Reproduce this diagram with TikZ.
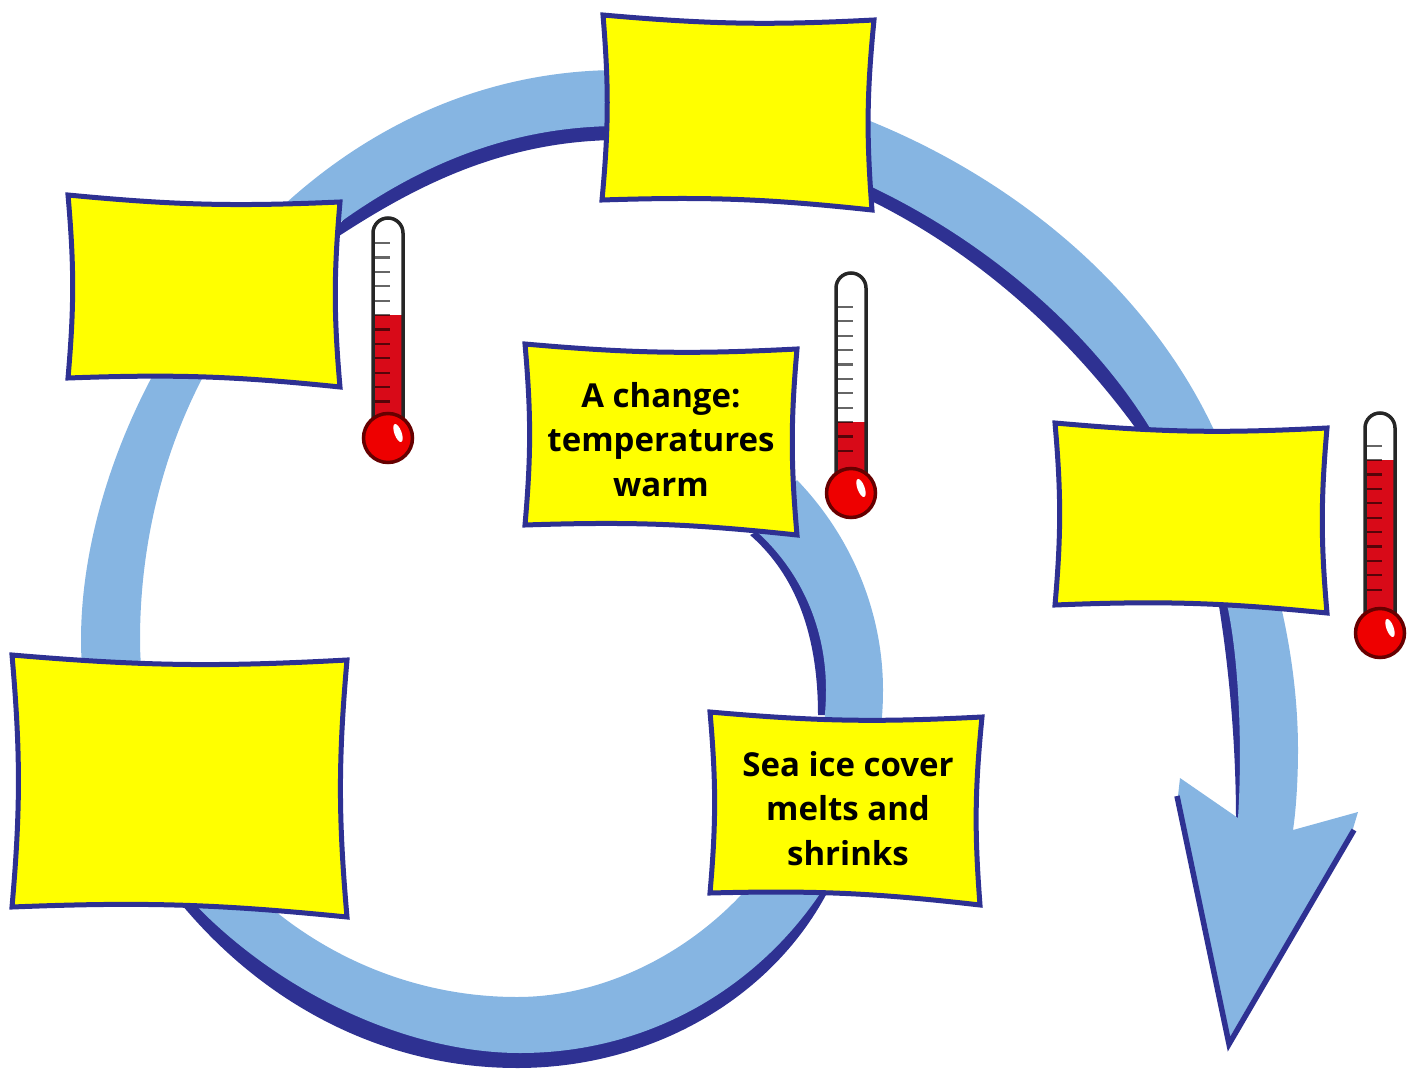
\documentclass[tikz,border=0pt]{standalone}
\usepackage{fontspec}
\setmainfont{Open Sans}
\usepackage{xcolor}
\usetikzlibrary{calc}

\definecolor{bandblue}{HTML}{86B5E2}
\definecolor{rimblue}{HTML}{2E3192}
\definecolor{tubered}{HTML}{D80A18}
\definecolor{bulbred}{HTML}{EE0000}
\definecolor{noteyellow}{HTML}{FFFF00}

\tikzset{
  band/.style={fill=bandblue,draw=none},
  rim/.style={fill=rimblue,draw=none},
  notebox/.style={fill=noteyellow,draw=rimblue,line width=5pt,line join=miter},
  notetext/.style={align=center,font=\fontsize{33}{44.5}\selectfont\bfseries,text=black,inner sep=0pt},
  tube/.style={draw=black!85,line width=3.5pt},
}

% corners run clockwise from the top left
\newcommand{\notebox}[5]{%
  \draw[notebox] (#2) to[bend right=4] (#3) to[bend right=5] (#4)
    to[bend right=4] (#5) to[bend right=5] cycle;
  \coordinate (#1) at ($(#2)!0.5!(#4)$);
}
% name, centre x, top y, level y, bulb y
\newcommand{\thermo}[5]{%
  \fill[white] (#2-15,#5) -- (#2-15,#3+15) arc[start angle=180,end angle=360,radius=15] -- (#2+15,#5) -- cycle;
  \fill[tubered] (#2-15,#4) rectangle (#2+15,#5);
  \foreach \n in {0,...,24} {
    \pgfmathsetmacro{\ticky}{#4-(12-\n)*14.4}
    \ifdim\ticky pt>\dimexpr#3pt+20pt\relax
      \ifdim\ticky pt<\dimexpr#5pt-30pt\relax
        \draw[line width=2.2pt,black,opacity=0.6] (#2-13,\ticky) -- (#2+2,\ticky);
      \fi
    \fi
  }
  \draw[tube] (#2-15,#5) -- (#2-15,#3+15) arc[start angle=180,end angle=360,radius=15] -- (#2+15,#5);
  \node[circle,minimum size=49pt,inner sep=0pt,fill=bulbred,draw=black!60!red,line width=3.5pt] (#1) at (#2,#5) {};
  \fill[white,rotate around={20:(#2+10,#5-5)}] (#2+10,#5-5) ellipse[x radius=3.6,y radius=9.5];
}

\begin{document}
\begin{tikzpicture}[x=1pt,y=-1pt]
  \useasboundingbox (0,0) rectangle (1419,1070);

  % dark rims
  \path[rim] (182,905) .. controls (270,1010) and (390,1068) .. (517,1068)
    .. controls (650,1068) and (770,1000) .. (827,893)
    -- (823,880) .. controls (750,1000) and (650,1030) .. (520,1030)
    .. controls (390,1030) and (270,980) .. (198,900) -- cycle;
  \path[rim] (339,236) .. controls (410,190) and (500,140) .. (620,140)
    .. controls (820,140) and (1010,255) .. (1137,430)
    -- (1150,450) -- (1170,440) -- (1150,420) .. controls (1050,220) and (850,100) .. (640,100)
    .. controls (500,100) and (400,150) .. (339,225) -- cycle;
  \path[rim] (750,535) .. controls (790,570) and (818,625) .. (818,715)
    -- (840,715) .. controls (840,620) and (810,570) .. (770,525) -- cycle;
  \path[rim] (1218,600) .. controls (1228,660) and (1236,740) .. (1236,820)
    -- (1250,820) -- (1250,600) -- cycle;

  % the band, from the middle box round to the arrow
  \path[band] (797,480) .. controls (850,535) and (883,610) .. (883,690)
    .. controls (883,880) and (730,1053) .. (520,1053)
    .. controls (330,1053) and (81,880) .. (81,640)
    .. controls (81,400) and (290,70) .. (620,70)
    .. controls (850,70) and (1110,210) .. (1213,428)
    .. controls (1265,520) and (1298,640) .. (1298,750)
    .. controls (1298,780) and (1296,810) .. (1293,830)
    -- (1358,812) -- (1352,832) -- (1228,1040) -- (1178,796) -- (1180,778) -- (1238,818)
    .. controls (1243,740) and (1238,650) .. (1226,600)
    .. controls (1205,530) and (1190,500) .. (1150,428)
    .. controls (1050,265) and (830,126) .. (620,126)
    .. controls (510,126) and (420,165) .. (339,223)
    .. controls (230,290) and (140,450) .. (140,640)
    .. controls (140,830) and (310,997) .. (517,997)
    .. controls (670,997) and (826,860) .. (826,690)
    .. controls (826,620) and (795,565) .. (755,530) -- cycle;

  % arrow head edges
  \coordinate (barbleft) at (1177,796);
  \coordinate (arrowtip) at (1229,1044);
  \coordinate (barbright) at (1354,830);
  \draw[rimblue,line width=5.5pt,line join=miter] (barbleft) -- (arrowtip) -- (barbright);

  \notebox{topbox}{603,15}{874,20}{872,210}{602,200}
  \notebox{leftbox}{68,195}{340,202}{340,387}{68,378}
  \notebox{changebox}{525,344}{797,349}{797,535}{525,525}
  \notebox{rightbox}{1055,423}{1327,428}{1327,613}{1055,605}
  \notebox{lowbox}{12,655}{347,660}{347,917}{12,907}
  \notebox{icebox}{710,712}{982,717}{980,905}{710,893}

  \node[notetext] (changetext) at (changebox) {A change:\\temperatures\\warm};
  \node[notetext] (icetext) at ($(icebox)+(3,0)$) {Sea ice cover\\melts and\\shrinks};

  \thermo{bulbleft}{388}{218}{315}{438}
  \thermo{bulbmid}{851}{273}{422}{493}
  \thermo{bulbright}{1380}{413}{460}{633}
\end{tikzpicture}
\end{document}
